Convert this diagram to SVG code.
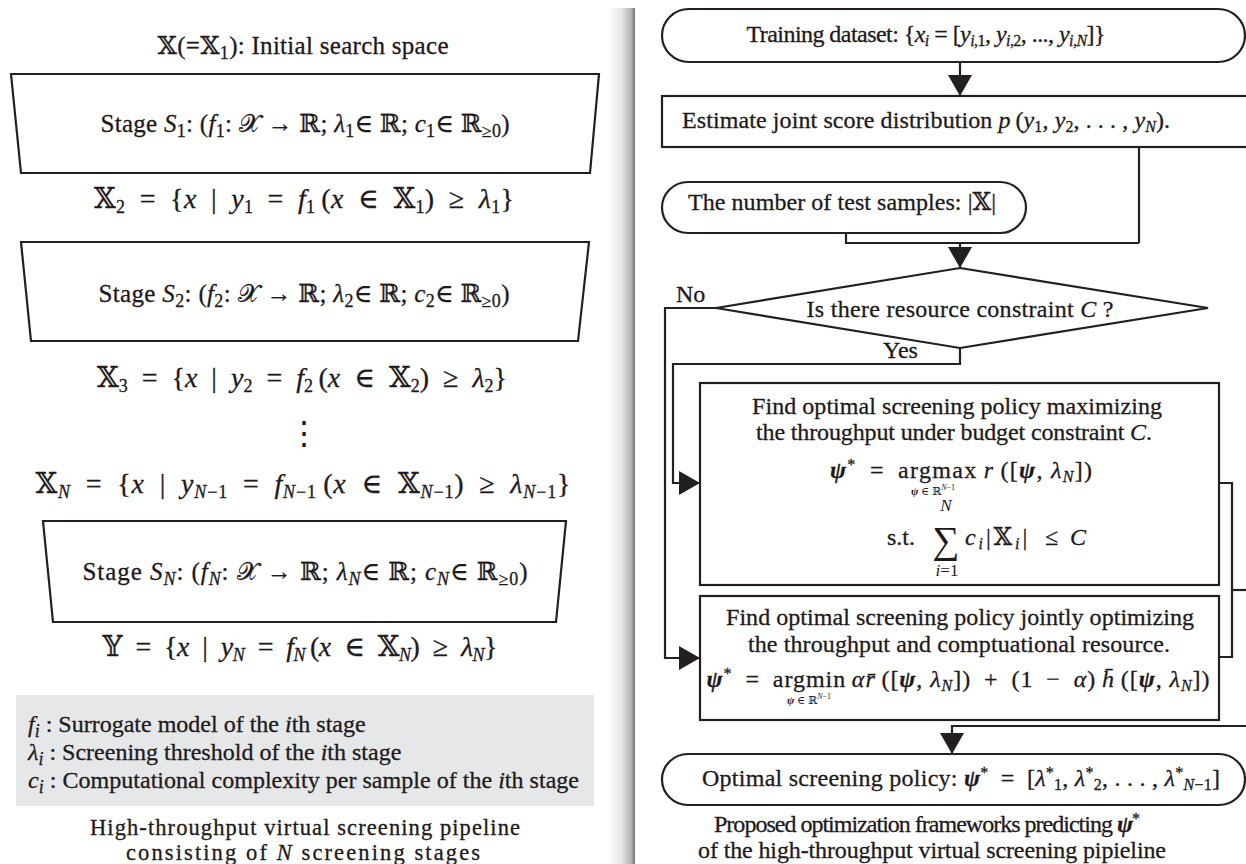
<svg xmlns="http://www.w3.org/2000/svg" width="1246" height="864" viewBox="0 0 1246 864">
<style>
text { font-family: "Liberation Serif", "DejaVu Serif", "DejaVu Sans", serif; fill: #1e1a1b; }
.L, .M, .G, .R, .K { stroke: #1e1a1b; stroke-width: 0.3px; }
.L { font-size: 25px; }
.K { font-size: 22.5px; }
.M { font-size: 28px; }
.G { font-size: 24px; }
.R { font-size: 24px; }
.c { text-anchor: middle; }
.i { font-style: italic; }
.bi { font-style: italic; font-weight: bold; }
.sl { font-size: 18px; baseline-shift: -5px; }
.sr { font-size: 16px; baseline-shift: -4px; }
.pr { font-size: 16px; baseline-shift: 8px; }
.tiny { font-size: 11px; }
.tp { font-size: 8px; baseline-shift: 5px; }
.shape { fill: none; stroke: #231f20; stroke-width: 2.2; }
.line { fill: none; stroke: #231f20; stroke-width: 2.2; }
.arrow { fill: none; stroke: #231f20; stroke-width: 2.2; marker-end: url(#ah); }
</style>
<defs>
<linearGradient id="div" x1="0" y1="0" x2="1" y2="0">
<stop offset="0" stop-color="#ffffff"/>
<stop offset="0.5" stop-color="#e4e4e4"/>
<stop offset="0.85" stop-color="#b4b4b4"/>
<stop offset="0.96" stop-color="#8a8a8a"/>
<stop offset="1" stop-color="#6c6c6c"/>
</linearGradient>
<marker id="ah" markerUnits="userSpaceOnUse" markerWidth="21" markerHeight="24" viewBox="0 0 21 24" refX="21" refY="12" orient="auto">
<path d="M0,0 L21,12 L0,24 Z" fill="#231f20"/>
</marker>
</defs>
<rect width="1246" height="864" fill="#ffffff"/>
<rect id="divider" x="608" y="8" width="27" height="856" fill="url(#div)"/>

<g id="left-panel">
<g id="title">
<text class="L c" x="303" y="54" textLength="291" lengthAdjust="spacing">𝕏(=𝕏<tspan class="sl">1</tspan>): Initial search space</text>
</g>
<g id="stage1">
<polygon class="shape" points="11,74 599,74 590,173 21,173"/>
<text class="L c" x="305" y="132" textLength="409" lengthAdjust="spacing">Stage <tspan class="i">S</tspan><tspan class="sl">1</tspan>: (<tspan class="i">f</tspan><tspan class="sl">1</tspan>: 𝒳 → ℝ; <tspan class="i">λ</tspan><tspan class="sl">1</tspan>∈ ℝ; <tspan class="i">c</tspan><tspan class="sl">1</tspan>∈ ℝ<tspan class="sl">≥0</tspan>)</text>
</g>
<g id="set2">
<text class="M c" x="304" y="208" textLength="420" lengthAdjust="spacing">𝕏<tspan class="sl">2</tspan>&#8194;=&#8194;{<tspan class="i">x</tspan>&#8194;|&#8194;<tspan class="i">y</tspan><tspan class="sl">1</tspan>&#8194;=&#8194;<tspan class="i">f</tspan><tspan class="sl">1</tspan>&#8201;(<tspan class="i">x</tspan>&#8194;∈&#8194;𝕏<tspan class="sl">1</tspan>)&#8194;≥&#8194;<tspan class="i">λ</tspan><tspan class="sl">1</tspan>}</text>
</g>
<g id="stage2">
<polygon class="shape" points="21,242 589,242 578,341 31,341"/>
<text class="L c" x="304" y="302" textLength="411" lengthAdjust="spacing">Stage <tspan class="i">S</tspan><tspan class="sl">2</tspan>: (<tspan class="i">f</tspan><tspan class="sl">2</tspan>: 𝒳 → ℝ; <tspan class="i">λ</tspan><tspan class="sl">2</tspan>∈ ℝ; <tspan class="i">c</tspan><tspan class="sl">2</tspan>∈ ℝ<tspan class="sl">≥0</tspan>)</text>
</g>
<g id="set3">
<text class="M c" x="302" y="387" textLength="410" lengthAdjust="spacing">𝕏<tspan class="sl">3</tspan>&#8194;=&#8194;{<tspan class="i">x</tspan>&#8194;|&#8194;<tspan class="i">y</tspan><tspan class="sl">2</tspan>&#8194;=&#8194;<tspan class="i">f</tspan><tspan class="sl">2</tspan>&#8201;(<tspan class="i">x</tspan>&#8194;∈&#8194;𝕏<tspan class="sl">2</tspan>)&#8194;≥&#8194;<tspan class="i">λ</tspan><tspan class="sl">2</tspan>}</text>
</g>
<g id="vdots">
<text class="c" x="304" y="444" style="font-family:'DejaVu Serif', serif; font-size:32px">⋮</text>
</g>
<g id="setN">
<text class="M c" x="303" y="493" textLength="535" lengthAdjust="spacing">𝕏<tspan class="sl i">N</tspan>&#8194;=&#8194;{<tspan class="i">x</tspan>&#8194;|&#8194;<tspan class="i">y</tspan><tspan class="sl"><tspan class="i">N</tspan>−1</tspan>&#8194;=&#8194;<tspan class="i">f</tspan><tspan class="sl"><tspan class="i">N</tspan>−1</tspan>&#8201;(<tspan class="i">x</tspan>&#8194;∈&#8194;𝕏<tspan class="sl"><tspan class="i">N</tspan>−1</tspan>)&#8194;≥&#8194;<tspan class="i">λ</tspan><tspan class="sl"><tspan class="i">N</tspan>−1</tspan>}</text>
</g>
<g id="stageN">
<polygon class="shape" points="43,521 566,521 556,622 53,622"/>
<text class="L c" x="305" y="580" textLength="445" lengthAdjust="spacing">Stage <tspan class="i">S</tspan><tspan class="sl i">N</tspan>: (<tspan class="i">f</tspan><tspan class="sl i">N</tspan>: 𝒳 → ℝ; <tspan class="i">λ</tspan><tspan class="sl i">N</tspan>∈ ℝ; <tspan class="i">c</tspan><tspan class="sl i">N</tspan>∈ ℝ<tspan class="sl">≥0</tspan>)</text>
</g>
<g id="output-set">
<text class="M c" x="300" y="656" textLength="395" lengthAdjust="spacing">𝕐&#8194;=&#8194;{<tspan class="i">x</tspan>&#8194;|&#8194;<tspan class="i">y</tspan><tspan class="sl i">N</tspan>&#8194;=&#8194;<tspan class="i">f</tspan><tspan class="sl i">N</tspan>&#8201;(<tspan class="i">x</tspan>&#8194;∈&#8194;𝕏<tspan class="sl i">N</tspan>)&#8194;≥&#8194;<tspan class="i">λ</tspan><tspan class="sl i">N</tspan>}</text>
</g>
<g id="legend">
<rect x="16" y="695" width="578" height="111" fill="#e6e7e9"/>
<text class="G" x="28" y="732"><tspan class="i">f</tspan><tspan class="sl i">i</tspan> : Surrogate model of the <tspan class="i">i</tspan>th stage</text>
<text class="G" x="28" y="760"><tspan class="i">λ</tspan><tspan class="sl i">i</tspan> : Screening threshold of the <tspan class="i">i</tspan>th stage</text>
<text class="G" x="28" y="788" textLength="551" lengthAdjust="spacing"><tspan class="i">c</tspan><tspan class="sl i">i</tspan> : Computational complexity per sample of the <tspan class="i">i</tspan>th stage</text>
</g>
<g id="left-caption">
<text class="K c" x="305" y="835" textLength="430" lengthAdjust="spacing">High-throughput virtual screening pipeline</text>
<text class="K c" x="303" y="860" textLength="354" lengthAdjust="spacing">consisting of <tspan class="i">N</tspan> screening stages</text>
</g>
</g>

<g id="right-panel">
<g id="training">
<rect class="shape" x="662" y="9" width="583" height="53" rx="27" ry="27"/>
<text class="R c" x="926" y="42" textLength="359" lengthAdjust="spacing">Training dataset: {<tspan class="i">x</tspan><tspan class="sr i">i</tspan> = [<tspan class="i">y</tspan><tspan class="sr"><tspan class="i">i</tspan>,1</tspan>, <tspan class="i">y</tspan><tspan class="sr"><tspan class="i">i</tspan>,2</tspan>, ..., <tspan class="i">y</tspan><tspan class="sr"><tspan class="i">i</tspan>,<tspan class="i">N</tspan></tspan>]}</text>
</g>
<g id="estimate">
<rect class="shape" x="662" y="96" width="590" height="51"/>
<text class="R c" x="926" y="128" textLength="488" lengthAdjust="spacing">Estimate joint score distribution <tspan class="i">p</tspan>&#8201;(<tspan class="i">y</tspan><tspan class="sr">1</tspan>, <tspan class="i">y</tspan><tspan class="sr">2</tspan>, . . . , <tspan class="i">y</tspan><tspan class="sr i">N</tspan>).</text>
</g>
<g id="test-samples">
<rect class="shape" x="662" y="182" width="364" height="51" rx="26" ry="26"/>
<text class="R c" x="842" y="210" textLength="308" lengthAdjust="spacing">The number of test samples: |𝕏|</text>
</g>
<g id="decision">
<polygon class="shape" points="960,268 1208,308 960,348 716,308"/>
<text class="R c" x="960" y="317" textLength="307" lengthAdjust="spacing">Is there resource constraint <tspan class="i">C</tspan> ?</text>
</g>
<g id="budget-box">
<rect class="shape" x="700" y="383" width="519" height="202"/>
<text class="R c" x="957" y="414" textLength="410" lengthAdjust="spacing">Find optimal screening policy maximizing</text>
<text class="R c" x="954" y="440" textLength="396" lengthAdjust="spacing">the throughput under budget constraint <tspan class="i">C</tspan>.</text>
<text class="R c" x="961" y="478" textLength="262" lengthAdjust="spacing"><tspan class="bi">ψ</tspan><tspan class="pr">*</tspan>&#8194;=&#8194;argmax&#8201;<tspan class="i">r</tspan>&#8201;([<tspan class="bi">ψ</tspan>, <tspan class="i">λ</tspan><tspan class="sr i">N</tspan>])</text>
<text class="c tiny" x="933" y="495"><tspan class="bi">ψ</tspan> ∈ ℝ<tspan class="tp"><tspan class="i">N</tspan>−1</tspan></text>
<text class="c i" x="946" y="511" style="font-size:17px">N</text>
<text class="R" x="887" y="545">s.t.</text>
<text class="c" x="946" y="553" style="font-size:38px">∑</text>
<text class="R" x="965" y="545" textLength="121" lengthAdjust="spacing"><tspan class="i">c</tspan><tspan class="sr i">i</tspan>|𝕏<tspan class="sr i">i</tspan>|&#8194;≤ <tspan class="i">C</tspan></text>
<text class="c" x="947" y="576" style="font-size:17px"><tspan class="i">i</tspan>=1</text>
</g>
<g id="joint-box">
<rect class="shape" x="700" y="596" width="519" height="124"/>
<text class="R c" x="960" y="625" textLength="468" lengthAdjust="spacing">Find optimal screening policy jointly optimizing</text>
<text class="R c" x="959" y="652" textLength="422" lengthAdjust="spacing">the throughput and comptuational resource.</text>
<text class="R c" x="958" y="687" textLength="503" lengthAdjust="spacing"><tspan class="bi">ψ</tspan><tspan class="pr">*</tspan>&#8194;=&#8194;argmin&#8201;<tspan class="i">αr̄</tspan>&#8201;([<tspan class="bi">ψ</tspan>, <tspan class="i">λ</tspan><tspan class="sr i">N</tspan>])&#8194;+&#8194;(1&#8194;−&#8194;<tspan class="i">α</tspan>)&#8201;<tspan class="i">h̄</tspan>&#8201;([<tspan class="bi">ψ</tspan>, <tspan class="i">λ</tspan><tspan class="sr i">N</tspan>])</text>
<text class="c tiny" x="809" y="704"><tspan class="bi">ψ</tspan> ∈ ℝ<tspan class="tp"><tspan class="i">N</tspan>−1</tspan></text>
</g>
<g id="optimal-policy">
<rect class="shape" x="662" y="754" width="583" height="51" rx="26" ry="26"/>
<text class="R c" x="961" y="786" textLength="518" lengthAdjust="spacing">Optimal screening policy: <tspan class="bi">ψ</tspan><tspan class="pr">*</tspan>&#8194;=&#8194;[<tspan class="i">λ</tspan><tspan class="pr">*</tspan><tspan class="sr">1</tspan>, <tspan class="i">λ</tspan><tspan class="pr">*</tspan><tspan class="sr">2</tspan>, . . . , <tspan class="i">λ</tspan><tspan class="pr">*</tspan><tspan class="sr"><tspan class="i">N</tspan>−1</tspan>]</text>
</g>
<g id="right-caption">
<text class="R c" x="927" y="832" textLength="426" lengthAdjust="spacing">Proposed optimization frameworks predicting <tspan class="bi">ψ</tspan><tspan class="pr">*</tspan></text>
<text class="R c" x="932" y="858" textLength="468" lengthAdjust="spacing">of the high-throughput virtual screening pipieline</text>
</g>
<g id="labels">
<text class="R" x="676" y="302">No</text>
<text class="R" x="883" y="358">Yes</text>
</g>
</g>

<g id="connectors">
<path class="arrow" d="M960,62 V96"/>
<path class="line" d="M1139,147 V243"/>
<path class="line" d="M846,233 V243 H1139"/>
<path class="arrow" d="M960,243 V268"/>
<path class="arrow" d="M716,308 H665 V658 H700"/>
<path class="arrow" d="M960,348 V364 H673 V483 H700"/>
<path class="line" d="M1219,483 H1232 V657 H1219"/>
<path class="line" d="M1232,590 H1246"/>
<path class="arrow" d="M1246,726 H952 V754"/>
</g>
</svg>
